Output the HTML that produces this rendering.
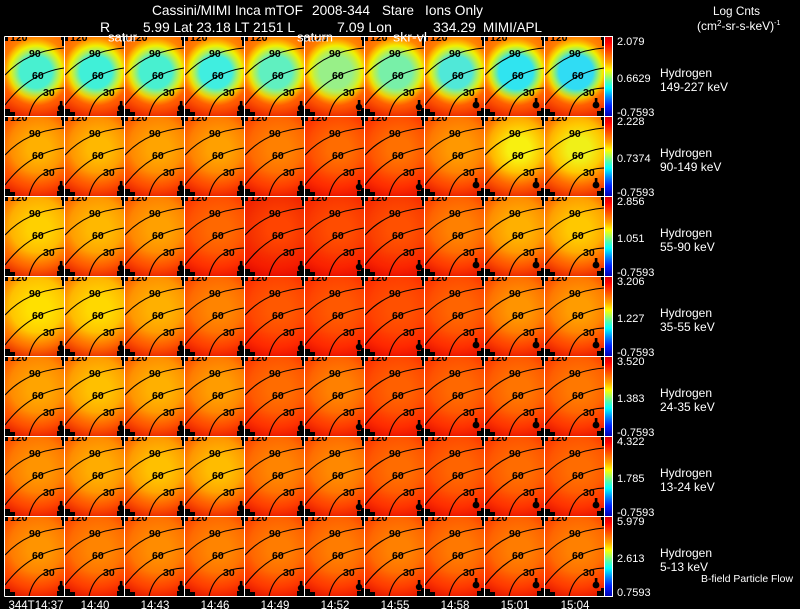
<!DOCTYPE html>
<html><head><meta charset="utf-8">
<style>
html,body{margin:0;padding:0;background:#000}
svg{display:block}
.c{fill:none;stroke:#000;stroke-width:1.1}
.l{font-family:"Liberation Sans",sans-serif;font-weight:bold;font-size:10.5px;fill:#000}
.t{font-family:"Liberation Sans",sans-serif;fill:#fff}
</style></head>
<body>
<svg width="800" height="609" viewBox="0 0 800 609" xmlns="http://www.w3.org/2000/svg">
<defs>
<clipPath id="pc"><rect x="0" y="0" width="59" height="79"/></clipPath>
<linearGradient id="cb" x1="0" y1="0" x2="0" y2="1">
<stop offset="0" stop-color="#d00000"/><stop offset=".08" stop-color="#ff0000"/><stop offset=".2" stop-color="#ff5000"/><stop offset=".32" stop-color="#ffa000"/><stop offset=".42" stop-color="#ffff00"/><stop offset=".5" stop-color="#a0ff60"/><stop offset=".58" stop-color="#40ffc0"/><stop offset=".65" stop-color="#00ffff"/><stop offset=".75" stop-color="#0090ff"/><stop offset=".87" stop-color="#0020ff"/><stop offset="1" stop-color="#0000b0"/>
</linearGradient>
<radialGradient id="o" gradientUnits="userSpaceOnUse" cx="32" cy="28" r="54"><stop offset=".5" stop-color="#ff1000" stop-opacity="0"/><stop offset=".78" stop-color="#ff1000" stop-opacity=".4"/><stop offset="1" stop-color="#d80000" stop-opacity=".75"/></radialGradient>
<!-- row 0 -->
<radialGradient id="g00" gradientUnits="userSpaceOnUse" cx="31" cy="35" r="34"><stop offset=".47" stop-color="#48f0d0"/><stop offset=".64" stop-color="#b0f058"/><stop offset=".77" stop-color="#f0f000"/><stop offset=".9" stop-color="#ffb000"/><stop offset="1" stop-color="#ff8800"/></radialGradient>
<radialGradient id="g01" gradientUnits="userSpaceOnUse" cx="31" cy="35" r="34"><stop offset=".47" stop-color="#40f0d8"/><stop offset=".64" stop-color="#b0f058"/><stop offset=".77" stop-color="#f0f000"/><stop offset=".9" stop-color="#ffb000"/><stop offset="1" stop-color="#ff8800"/></radialGradient>
<radialGradient id="g02" gradientUnits="userSpaceOnUse" cx="31" cy="35" r="34"><stop offset=".47" stop-color="#48f0d0"/><stop offset=".64" stop-color="#b0f058"/><stop offset=".77" stop-color="#f0f000"/><stop offset=".9" stop-color="#ffb000"/><stop offset="1" stop-color="#ff8800"/></radialGradient>
<radialGradient id="g03" gradientUnits="userSpaceOnUse" cx="31" cy="35" r="34"><stop offset=".47" stop-color="#40eee0"/><stop offset=".64" stop-color="#b0f058"/><stop offset=".77" stop-color="#f0f000"/><stop offset=".9" stop-color="#ffb000"/><stop offset="1" stop-color="#ff8800"/></radialGradient>
<radialGradient id="g04" gradientUnits="userSpaceOnUse" cx="31" cy="35" r="34"><stop offset=".47" stop-color="#60f0c0"/><stop offset=".64" stop-color="#b0f058"/><stop offset=".77" stop-color="#f0f000"/><stop offset=".9" stop-color="#ffb000"/><stop offset="1" stop-color="#ff8800"/></radialGradient>
<radialGradient id="g05" gradientUnits="userSpaceOnUse" cx="31" cy="35" r="34"><stop offset=".47" stop-color="#98f088"/><stop offset=".64" stop-color="#c0f048"/><stop offset=".77" stop-color="#f0f000"/><stop offset=".9" stop-color="#ffb000"/><stop offset="1" stop-color="#ff8800"/></radialGradient>
<radialGradient id="g06" gradientUnits="userSpaceOnUse" cx="31" cy="35" r="34"><stop offset=".47" stop-color="#78f0a8"/><stop offset=".64" stop-color="#b8f050"/><stop offset=".77" stop-color="#f0f000"/><stop offset=".9" stop-color="#ffb000"/><stop offset="1" stop-color="#ff8800"/></radialGradient>
<radialGradient id="g07" gradientUnits="userSpaceOnUse" cx="31" cy="35" r="34"><stop offset=".47" stop-color="#50e8d8"/><stop offset=".64" stop-color="#b0f058"/><stop offset=".77" stop-color="#f0f000"/><stop offset=".9" stop-color="#ffb000"/><stop offset="1" stop-color="#ff8800"/></radialGradient>
<radialGradient id="g08" gradientUnits="userSpaceOnUse" cx="31" cy="35" r="34"><stop offset=".5" stop-color="#30e4f0"/><stop offset=".66" stop-color="#a0f060"/><stop offset=".78" stop-color="#f0f000"/><stop offset=".9" stop-color="#ffb000"/><stop offset="1" stop-color="#ff8800"/></radialGradient>
<radialGradient id="g09" gradientUnits="userSpaceOnUse" cx="31" cy="35" r="34"><stop offset=".5" stop-color="#30dcf4"/><stop offset=".66" stop-color="#a0f060"/><stop offset=".78" stop-color="#f0f000"/><stop offset=".9" stop-color="#ffb000"/><stop offset="1" stop-color="#ff8800"/></radialGradient>
<!-- row 1 -->
<radialGradient id="g10" gradientUnits="userSpaceOnUse" cx="34" cy="32" r="38"><stop offset=".3" stop-color="#ffb000"/><stop offset="1" stop-color="#ff7800"/></radialGradient>
<radialGradient id="g11" gradientUnits="userSpaceOnUse" cx="34" cy="32" r="38"><stop offset=".3" stop-color="#ffb800"/><stop offset="1" stop-color="#ff8000"/></radialGradient>
<radialGradient id="g12" gradientUnits="userSpaceOnUse" cx="34" cy="32" r="38"><stop offset=".3" stop-color="#ffa400"/><stop offset="1" stop-color="#ff7800"/></radialGradient>
<radialGradient id="g13" gradientUnits="userSpaceOnUse" cx="34" cy="32" r="38"><stop offset=".3" stop-color="#ffa000"/><stop offset="1" stop-color="#ff7000"/></radialGradient>
<radialGradient id="g14" gradientUnits="userSpaceOnUse" cx="34" cy="32" r="38"><stop offset=".3" stop-color="#ff8000"/><stop offset="1" stop-color="#ff5c00"/></radialGradient>
<radialGradient id="g15" gradientUnits="userSpaceOnUse" cx="34" cy="32" r="38"><stop offset=".3" stop-color="#ff6c00"/><stop offset="1" stop-color="#ff4000"/></radialGradient>
<radialGradient id="g16" gradientUnits="userSpaceOnUse" cx="34" cy="32" r="38"><stop offset=".3" stop-color="#ff7000"/><stop offset="1" stop-color="#ff4400"/></radialGradient>
<radialGradient id="g17" gradientUnits="userSpaceOnUse" cx="34" cy="32" r="38"><stop offset=".3" stop-color="#ff9800"/><stop offset="1" stop-color="#ff6c00"/></radialGradient>
<radialGradient id="g18" gradientUnits="userSpaceOnUse" cx="34" cy="32" r="38"><stop offset=".3" stop-color="#f8f010"/><stop offset=".65" stop-color="#ffc000"/><stop offset="1" stop-color="#ff9000"/></radialGradient>
<radialGradient id="g19" gradientUnits="userSpaceOnUse" cx="34" cy="32" r="38"><stop offset=".3" stop-color="#f0f018"/><stop offset=".65" stop-color="#ffc800"/><stop offset="1" stop-color="#ff9800"/></radialGradient>
<!-- row 2 -->
<radialGradient id="g20" gradientUnits="userSpaceOnUse" cx="34" cy="32" r="38"><stop offset=".3" stop-color="#ffd000"/><stop offset="1" stop-color="#ffa000"/></radialGradient>
<radialGradient id="g21" gradientUnits="userSpaceOnUse" cx="34" cy="32" r="38"><stop offset=".3" stop-color="#ffb800"/><stop offset="1" stop-color="#ff8c00"/></radialGradient>
<radialGradient id="g22" gradientUnits="userSpaceOnUse" cx="34" cy="32" r="38"><stop offset=".3" stop-color="#ffa000"/><stop offset="1" stop-color="#ff7800"/></radialGradient>
<radialGradient id="g23" gradientUnits="userSpaceOnUse" cx="34" cy="32" r="38"><stop offset=".3" stop-color="#ff6800"/><stop offset="1" stop-color="#ff4800"/></radialGradient>
<radialGradient id="g24" gradientUnits="userSpaceOnUse" cx="34" cy="32" r="38"><stop offset=".3" stop-color="#ff4400"/><stop offset="1" stop-color="#f02800"/></radialGradient>
<radialGradient id="g25" gradientUnits="userSpaceOnUse" cx="34" cy="32" r="38"><stop offset=".3" stop-color="#ff4c00"/><stop offset="1" stop-color="#f83000"/></radialGradient>
<radialGradient id="g26" gradientUnits="userSpaceOnUse" cx="34" cy="32" r="38"><stop offset=".3" stop-color="#ff5000"/><stop offset="1" stop-color="#f83400"/></radialGradient>
<radialGradient id="g27" gradientUnits="userSpaceOnUse" cx="34" cy="32" r="38"><stop offset=".3" stop-color="#ff8000"/><stop offset="1" stop-color="#ff5800"/></radialGradient>
<radialGradient id="g28" gradientUnits="userSpaceOnUse" cx="34" cy="32" r="38"><stop offset=".3" stop-color="#ffb000"/><stop offset="1" stop-color="#ff8000"/></radialGradient>
<radialGradient id="g29" gradientUnits="userSpaceOnUse" cx="34" cy="32" r="38"><stop offset=".3" stop-color="#ffc800"/><stop offset="1" stop-color="#ff9000"/></radialGradient>
<!-- row 3 -->
<radialGradient id="g30" gradientUnits="userSpaceOnUse" cx="34" cy="32" r="38"><stop offset=".3" stop-color="#ffe000"/><stop offset="1" stop-color="#ffb400"/></radialGradient>
<radialGradient id="g31" gradientUnits="userSpaceOnUse" cx="34" cy="32" r="38"><stop offset=".3" stop-color="#ffd800"/><stop offset="1" stop-color="#ffa800"/></radialGradient>
<radialGradient id="g32" gradientUnits="userSpaceOnUse" cx="34" cy="32" r="38"><stop offset=".3" stop-color="#ffb000"/><stop offset="1" stop-color="#ff8800"/></radialGradient>
<radialGradient id="g33" gradientUnits="userSpaceOnUse" cx="34" cy="32" r="38"><stop offset=".3" stop-color="#ff8400"/><stop offset="1" stop-color="#ff6000"/></radialGradient>
<radialGradient id="g34" gradientUnits="userSpaceOnUse" cx="34" cy="32" r="38"><stop offset=".3" stop-color="#ff5800"/><stop offset="1" stop-color="#ff3c00"/></radialGradient>
<radialGradient id="g35" gradientUnits="userSpaceOnUse" cx="34" cy="32" r="38"><stop offset=".3" stop-color="#ff5800"/><stop offset="1" stop-color="#ff3c00"/></radialGradient>
<radialGradient id="g36" gradientUnits="userSpaceOnUse" cx="34" cy="32" r="38"><stop offset=".3" stop-color="#ff5000"/><stop offset="1" stop-color="#ff3800"/></radialGradient>
<radialGradient id="g37" gradientUnits="userSpaceOnUse" cx="34" cy="32" r="38"><stop offset=".3" stop-color="#ff6400"/><stop offset="1" stop-color="#ff4400"/></radialGradient>
<radialGradient id="g38" gradientUnits="userSpaceOnUse" cx="34" cy="32" r="38"><stop offset=".3" stop-color="#ff9400"/><stop offset="1" stop-color="#ff6400"/></radialGradient>
<radialGradient id="g39" gradientUnits="userSpaceOnUse" cx="34" cy="32" r="38"><stop offset=".3" stop-color="#ff9c00"/><stop offset="1" stop-color="#ff6c00"/></radialGradient>
<!-- row 4 -->
<radialGradient id="g40" gradientUnits="userSpaceOnUse" cx="34" cy="32" r="38"><stop offset=".3" stop-color="#ffa400"/><stop offset="1" stop-color="#ff7c00"/></radialGradient>
<radialGradient id="g41" gradientUnits="userSpaceOnUse" cx="34" cy="32" r="38"><stop offset=".3" stop-color="#ffc000"/><stop offset="1" stop-color="#ff9000"/></radialGradient>
<radialGradient id="g42" gradientUnits="userSpaceOnUse" cx="34" cy="32" r="38"><stop offset=".3" stop-color="#ffb000"/><stop offset="1" stop-color="#ff8400"/></radialGradient>
<radialGradient id="g43" gradientUnits="userSpaceOnUse" cx="34" cy="32" r="38"><stop offset=".3" stop-color="#ff9c00"/><stop offset="1" stop-color="#ff7000"/></radialGradient>
<radialGradient id="g44" gradientUnits="userSpaceOnUse" cx="34" cy="32" r="38"><stop offset=".3" stop-color="#ff6c00"/><stop offset="1" stop-color="#ff4c00"/></radialGradient>
<radialGradient id="g45" gradientUnits="userSpaceOnUse" cx="34" cy="32" r="38"><stop offset=".3" stop-color="#ff8000"/><stop offset="1" stop-color="#ff5800"/></radialGradient>
<radialGradient id="g46" gradientUnits="userSpaceOnUse" cx="34" cy="32" r="38"><stop offset=".3" stop-color="#ff6000"/><stop offset="1" stop-color="#ff4000"/></radialGradient>
<radialGradient id="g47" gradientUnits="userSpaceOnUse" cx="34" cy="32" r="38"><stop offset=".3" stop-color="#ff6800"/><stop offset="1" stop-color="#ff4800"/></radialGradient>
<radialGradient id="g48" gradientUnits="userSpaceOnUse" cx="34" cy="32" r="38"><stop offset=".3" stop-color="#ff7400"/><stop offset="1" stop-color="#ff5000"/></radialGradient>
<radialGradient id="g49" gradientUnits="userSpaceOnUse" cx="34" cy="32" r="38"><stop offset=".3" stop-color="#ff7800"/><stop offset="1" stop-color="#ff5400"/></radialGradient>
<!-- row 5 -->
<radialGradient id="g50" gradientUnits="userSpaceOnUse" cx="34" cy="32" r="38"><stop offset=".3" stop-color="#ff9400"/><stop offset="1" stop-color="#ff6c00"/></radialGradient>
<radialGradient id="g51" gradientUnits="userSpaceOnUse" cx="34" cy="32" r="38"><stop offset=".3" stop-color="#ffac00"/><stop offset="1" stop-color="#ff8000"/></radialGradient>
<radialGradient id="g52" gradientUnits="userSpaceOnUse" cx="34" cy="32" r="38"><stop offset=".3" stop-color="#ffc000"/><stop offset="1" stop-color="#ff8c00"/></radialGradient>
<radialGradient id="g53" gradientUnits="userSpaceOnUse" cx="34" cy="32" r="38"><stop offset=".3" stop-color="#ffbc00"/><stop offset="1" stop-color="#ff8800"/></radialGradient>
<radialGradient id="g54" gradientUnits="userSpaceOnUse" cx="34" cy="32" r="38"><stop offset=".3" stop-color="#ff8400"/><stop offset="1" stop-color="#ff6000"/></radialGradient>
<radialGradient id="g55" gradientUnits="userSpaceOnUse" cx="34" cy="32" r="38"><stop offset=".3" stop-color="#ff8800"/><stop offset="1" stop-color="#ff6400"/></radialGradient>
<radialGradient id="g56" gradientUnits="userSpaceOnUse" cx="34" cy="32" r="38"><stop offset=".3" stop-color="#ff6c00"/><stop offset="1" stop-color="#ff4c00"/></radialGradient>
<radialGradient id="g57" gradientUnits="userSpaceOnUse" cx="34" cy="32" r="38"><stop offset=".3" stop-color="#ff6400"/><stop offset="1" stop-color="#ff4400"/></radialGradient>
<radialGradient id="g58" gradientUnits="userSpaceOnUse" cx="34" cy="32" r="38"><stop offset=".3" stop-color="#ff6c00"/><stop offset="1" stop-color="#ff4c00"/></radialGradient>
<radialGradient id="g59" gradientUnits="userSpaceOnUse" cx="34" cy="32" r="38"><stop offset=".3" stop-color="#ff6c00"/><stop offset="1" stop-color="#ff4c00"/></radialGradient>
<!-- row 6 -->
<radialGradient id="g60" gradientUnits="userSpaceOnUse" cx="34" cy="32" r="38"><stop offset=".3" stop-color="#ff9400"/><stop offset="1" stop-color="#ff6c00"/></radialGradient>
<radialGradient id="g61" gradientUnits="userSpaceOnUse" cx="34" cy="32" r="38"><stop offset=".3" stop-color="#ff8400"/><stop offset="1" stop-color="#ff6000"/></radialGradient>
<radialGradient id="g62" gradientUnits="userSpaceOnUse" cx="34" cy="32" r="38"><stop offset=".3" stop-color="#ff8c00"/><stop offset="1" stop-color="#ff6800"/></radialGradient>
<radialGradient id="g63" gradientUnits="userSpaceOnUse" cx="34" cy="32" r="38"><stop offset=".3" stop-color="#ff8400"/><stop offset="1" stop-color="#ff6000"/></radialGradient>
<radialGradient id="g64" gradientUnits="userSpaceOnUse" cx="34" cy="32" r="38"><stop offset=".3" stop-color="#ff7c00"/><stop offset="1" stop-color="#ff5800"/></radialGradient>
<radialGradient id="g65" gradientUnits="userSpaceOnUse" cx="34" cy="32" r="38"><stop offset=".3" stop-color="#ff7c00"/><stop offset="1" stop-color="#ff5800"/></radialGradient>
<radialGradient id="g66" gradientUnits="userSpaceOnUse" cx="34" cy="32" r="38"><stop offset=".3" stop-color="#ff8000"/><stop offset="1" stop-color="#ff5c00"/></radialGradient>
<radialGradient id="g67" gradientUnits="userSpaceOnUse" cx="34" cy="32" r="38"><stop offset=".3" stop-color="#ff7800"/><stop offset="1" stop-color="#ff5400"/></radialGradient>
<radialGradient id="g68" gradientUnits="userSpaceOnUse" cx="34" cy="32" r="38"><stop offset=".3" stop-color="#ff7c00"/><stop offset="1" stop-color="#ff5800"/></radialGradient>
<radialGradient id="g69" gradientUnits="userSpaceOnUse" cx="34" cy="32" r="38"><stop offset=".3" stop-color="#ff8000"/><stop offset="1" stop-color="#ff5c00"/></radialGradient>
</defs>

<rect x="0" y="0" width="800" height="609" fill="#000"/>

<!-- ROW 0 -->
<g transform="translate(5,37)" clip-path="url(#pc)"><path d="M3,0H56V3H57V9H59V71H56V74H52V79H10V75H5V72H0V4H3Z" fill="url(#g00)"/><path d="M3,0H56V3H57V9H59V71H56V74H52V79H10V75H5V72H0V4H3Z" fill="url(#o)"/><path class="c" d="M0,38Q22,14 59,11M0,68Q24,36 59,31M24,79Q30,52 59,51"/><text class="l" x="24" y="20">90</text><text class="l" x="27" y="42">60</text><text class="l" x="38" y="59">30</text><text class="l" x="5" y="4">120</text><circle cx="56" cy="71" r="3.2"/><rect x="54.8" y="64" width="2.6" height="6"/></g>
<g transform="translate(65,37)" clip-path="url(#pc)"><path d="M3,0H56V3H57V9H59V71H56V74H52V79H10V75H5V72H0V4H3Z" fill="url(#g01)"/><path d="M3,0H56V3H57V9H59V71H56V74H52V79H10V75H5V72H0V4H3Z" fill="url(#o)"/><path class="c" d="M0,38Q22,14 59,11M0,68Q24,36 59,31M24,79Q30,52 59,51"/><text class="l" x="24" y="20">90</text><text class="l" x="27" y="42">60</text><text class="l" x="38" y="59">30</text><text class="l" x="5" y="4">120</text><circle cx="56" cy="71" r="3.2"/><rect x="54.8" y="64" width="2.6" height="6"/></g>
<g transform="translate(125,37)" clip-path="url(#pc)"><path d="M3,0H56V3H57V9H59V71H56V74H52V79H10V75H5V72H0V4H3Z" fill="url(#g02)"/><path d="M3,0H56V3H57V9H59V71H56V74H52V79H10V75H5V72H0V4H3Z" fill="url(#o)"/><path class="c" d="M0,38Q22,14 59,11M0,68Q24,36 59,31M24,79Q30,52 59,51"/><text class="l" x="24" y="20">90</text><text class="l" x="27" y="42">60</text><text class="l" x="38" y="59">30</text><text class="l" x="5" y="4">120</text><circle cx="56" cy="71" r="3.2"/><rect x="54.8" y="64" width="2.6" height="6"/></g>
<g transform="translate(185,37)" clip-path="url(#pc)"><path d="M3,0H56V3H57V9H59V71H56V74H52V79H10V75H5V72H0V4H3Z" fill="url(#g03)"/><path d="M3,0H56V3H57V9H59V71H56V74H52V79H10V75H5V72H0V4H3Z" fill="url(#o)"/><path class="c" d="M0,38Q22,14 59,11M0,68Q24,36 59,31M24,79Q30,52 59,51"/><text class="l" x="24" y="20">90</text><text class="l" x="27" y="42">60</text><text class="l" x="38" y="59">30</text><text class="l" x="5" y="4">120</text><circle cx="56" cy="71" r="3.2"/><rect x="54.8" y="64" width="2.6" height="6"/></g>
<g transform="translate(245,37)" clip-path="url(#pc)"><path d="M3,0H56V3H57V9H59V71H56V74H52V79H10V75H5V72H0V4H3Z" fill="url(#g04)"/><path d="M3,0H56V3H57V9H59V71H56V74H52V79H10V75H5V72H0V4H3Z" fill="url(#o)"/><path class="c" d="M0,38Q22,14 59,11M0,68Q24,36 59,31M24,79Q30,52 59,51"/><text class="l" x="24" y="20">90</text><text class="l" x="27" y="42">60</text><text class="l" x="38" y="59">30</text><text class="l" x="5" y="4">120</text><circle cx="56" cy="71" r="3.2"/><rect x="54.8" y="64" width="2.6" height="6"/></g>
<g transform="translate(305,37)" clip-path="url(#pc)"><path d="M3,0H56V3H57V9H59V71H56V74H52V79H10V75H5V72H0V4H3Z" fill="url(#g05)"/><path d="M3,0H56V3H57V9H59V71H56V74H52V79H10V75H5V72H0V4H3Z" fill="url(#o)"/><path class="c" d="M0,38Q22,14 59,11M0,68Q24,36 59,31M24,79Q30,52 59,51"/><text class="l" x="24" y="20">90</text><text class="l" x="27" y="42">60</text><text class="l" x="38" y="59">30</text><text class="l" x="5" y="4">120</text><circle cx="54" cy="70" r="3.2"/><rect x="52.8" y="63" width="2.6" height="6"/></g>
<g transform="translate(365,37)" clip-path="url(#pc)"><path d="M3,0H56V3H57V9H59V71H56V74H52V79H10V75H5V72H0V4H3Z" fill="url(#g06)"/><path d="M3,0H56V3H57V9H59V71H56V74H52V79H10V75H5V72H0V4H3Z" fill="url(#o)"/><path class="c" d="M0,38Q22,14 59,11M0,68Q24,36 59,31M24,79Q30,52 59,51"/><text class="l" x="24" y="20">90</text><text class="l" x="27" y="42">60</text><text class="l" x="38" y="59">30</text><text class="l" x="5" y="4">120</text><circle cx="54" cy="70" r="3.2"/><rect x="52.8" y="63" width="2.6" height="6"/></g>
<g transform="translate(425,37)" clip-path="url(#pc)"><path d="M3,0H56V3H57V9H59V71H56V74H52V79H10V75H5V72H0V4H3Z" fill="url(#g07)"/><path d="M3,0H56V3H57V9H59V71H56V74H52V79H10V75H5V72H0V4H3Z" fill="url(#o)"/><path class="c" d="M0,38Q22,14 59,11M0,68Q24,36 59,31M24,79Q30,52 59,51"/><text class="l" x="24" y="20">90</text><text class="l" x="27" y="42">60</text><text class="l" x="38" y="59">30</text><text class="l" x="5" y="4">120</text><circle cx="51" cy="68" r="3.4"/><rect x="49.8" y="61" width="2.6" height="6"/></g>
<g transform="translate(485,37)" clip-path="url(#pc)"><path d="M3,0H56V3H57V9H59V71H56V74H52V79H10V75H5V72H0V4H3Z" fill="url(#g08)"/><path d="M3,0H56V3H57V9H59V71H56V74H52V79H10V75H5V72H0V4H3Z" fill="url(#o)"/><path class="c" d="M0,38Q22,14 59,11M0,68Q24,36 59,31M24,79Q30,52 59,51"/><text class="l" x="24" y="20">90</text><text class="l" x="27" y="42">60</text><text class="l" x="38" y="59">30</text><text class="l" x="5" y="4">120</text><circle cx="51" cy="68" r="3.4"/><rect x="49.8" y="61" width="2.6" height="6"/></g>
<g transform="translate(545,37)" clip-path="url(#pc)"><path d="M3,0H56V3H57V9H59V71H56V74H52V79H10V75H5V72H0V4H3Z" fill="url(#g09)"/><path d="M3,0H56V3H57V9H59V71H56V74H52V79H10V75H5V72H0V4H3Z" fill="url(#o)"/><path class="c" d="M0,38Q22,14 59,11M0,68Q24,36 59,31M24,79Q30,52 59,51"/><text class="l" x="24" y="20">90</text><text class="l" x="27" y="42">60</text><text class="l" x="38" y="59">30</text><text class="l" x="5" y="4">120</text><circle cx="51" cy="68" r="3.4"/><rect x="49.8" y="61" width="2.6" height="6"/></g>

<!-- ROW 1 -->
<g transform="translate(5,117)" clip-path="url(#pc)"><path d="M3,0H56V3H57V9H59V71H56V74H52V79H10V75H5V72H0V4H3Z" fill="url(#g10)"/><path d="M3,0H56V3H57V9H59V71H56V74H52V79H10V75H5V72H0V4H3Z" fill="url(#o)"/><path class="c" d="M0,38Q22,14 59,11M0,68Q24,36 59,31M24,79Q30,52 59,51"/><text class="l" x="24" y="20">90</text><text class="l" x="27" y="42">60</text><text class="l" x="38" y="59">30</text><text class="l" x="5" y="4">120</text><circle cx="56" cy="71" r="3.2"/><rect x="54.8" y="64" width="2.6" height="6"/></g>
<g transform="translate(65,117)" clip-path="url(#pc)"><path d="M3,0H56V3H57V9H59V71H56V74H52V79H10V75H5V72H0V4H3Z" fill="url(#g11)"/><path d="M3,0H56V3H57V9H59V71H56V74H52V79H10V75H5V72H0V4H3Z" fill="url(#o)"/><path class="c" d="M0,38Q22,14 59,11M0,68Q24,36 59,31M24,79Q30,52 59,51"/><text class="l" x="24" y="20">90</text><text class="l" x="27" y="42">60</text><text class="l" x="38" y="59">30</text><text class="l" x="5" y="4">120</text><circle cx="56" cy="71" r="3.2"/><rect x="54.8" y="64" width="2.6" height="6"/></g>
<g transform="translate(125,117)" clip-path="url(#pc)"><path d="M3,0H56V3H57V9H59V71H56V74H52V79H10V75H5V72H0V4H3Z" fill="url(#g12)"/><path d="M3,0H56V3H57V9H59V71H56V74H52V79H10V75H5V72H0V4H3Z" fill="url(#o)"/><path class="c" d="M0,38Q22,14 59,11M0,68Q24,36 59,31M24,79Q30,52 59,51"/><text class="l" x="24" y="20">90</text><text class="l" x="27" y="42">60</text><text class="l" x="38" y="59">30</text><text class="l" x="5" y="4">120</text><circle cx="56" cy="71" r="3.2"/><rect x="54.8" y="64" width="2.6" height="6"/></g>
<g transform="translate(185,117)" clip-path="url(#pc)"><path d="M3,0H56V3H57V9H59V71H56V74H52V79H10V75H5V72H0V4H3Z" fill="url(#g13)"/><path d="M3,0H56V3H57V9H59V71H56V74H52V79H10V75H5V72H0V4H3Z" fill="url(#o)"/><path class="c" d="M0,38Q22,14 59,11M0,68Q24,36 59,31M24,79Q30,52 59,51"/><text class="l" x="24" y="20">90</text><text class="l" x="27" y="42">60</text><text class="l" x="38" y="59">30</text><text class="l" x="5" y="4">120</text><circle cx="56" cy="71" r="3.2"/><rect x="54.8" y="64" width="2.6" height="6"/></g>
<g transform="translate(245,117)" clip-path="url(#pc)"><path d="M3,0H56V3H57V9H59V71H56V74H52V79H10V75H5V72H0V4H3Z" fill="url(#g14)"/><path d="M3,0H56V3H57V9H59V71H56V74H52V79H10V75H5V72H0V4H3Z" fill="url(#o)"/><path class="c" d="M0,38Q22,14 59,11M0,68Q24,36 59,31M24,79Q30,52 59,51"/><text class="l" x="24" y="20">90</text><text class="l" x="27" y="42">60</text><text class="l" x="38" y="59">30</text><text class="l" x="5" y="4">120</text><circle cx="56" cy="71" r="3.2"/><rect x="54.8" y="64" width="2.6" height="6"/></g>
<g transform="translate(305,117)" clip-path="url(#pc)"><path d="M3,0H56V3H57V9H59V71H56V74H52V79H10V75H5V72H0V4H3Z" fill="url(#g15)"/><path d="M3,0H56V3H57V9H59V71H56V74H52V79H10V75H5V72H0V4H3Z" fill="url(#o)"/><path class="c" d="M0,38Q22,14 59,11M0,68Q24,36 59,31M24,79Q30,52 59,51"/><text class="l" x="24" y="20">90</text><text class="l" x="27" y="42">60</text><text class="l" x="38" y="59">30</text><text class="l" x="5" y="4">120</text><circle cx="54" cy="70" r="3.2"/><rect x="52.8" y="63" width="2.6" height="6"/></g>
<g transform="translate(365,117)" clip-path="url(#pc)"><path d="M3,0H56V3H57V9H59V71H56V74H52V79H10V75H5V72H0V4H3Z" fill="url(#g16)"/><path d="M3,0H56V3H57V9H59V71H56V74H52V79H10V75H5V72H0V4H3Z" fill="url(#o)"/><path class="c" d="M0,38Q22,14 59,11M0,68Q24,36 59,31M24,79Q30,52 59,51"/><text class="l" x="24" y="20">90</text><text class="l" x="27" y="42">60</text><text class="l" x="38" y="59">30</text><text class="l" x="5" y="4">120</text><circle cx="54" cy="70" r="3.2"/><rect x="52.8" y="63" width="2.6" height="6"/></g>
<g transform="translate(425,117)" clip-path="url(#pc)"><path d="M3,0H56V3H57V9H59V71H56V74H52V79H10V75H5V72H0V4H3Z" fill="url(#g17)"/><path d="M3,0H56V3H57V9H59V71H56V74H52V79H10V75H5V72H0V4H3Z" fill="url(#o)"/><path class="c" d="M0,38Q22,14 59,11M0,68Q24,36 59,31M24,79Q30,52 59,51"/><text class="l" x="24" y="20">90</text><text class="l" x="27" y="42">60</text><text class="l" x="38" y="59">30</text><text class="l" x="5" y="4">120</text><circle cx="51" cy="68" r="3.4"/><rect x="49.8" y="61" width="2.6" height="6"/></g>
<g transform="translate(485,117)" clip-path="url(#pc)"><path d="M3,0H56V3H57V9H59V71H56V74H52V79H10V75H5V72H0V4H3Z" fill="url(#g18)"/><path d="M3,0H56V3H57V9H59V71H56V74H52V79H10V75H5V72H0V4H3Z" fill="url(#o)"/><path class="c" d="M0,38Q22,14 59,11M0,68Q24,36 59,31M24,79Q30,52 59,51"/><text class="l" x="24" y="20">90</text><text class="l" x="27" y="42">60</text><text class="l" x="38" y="59">30</text><text class="l" x="5" y="4">120</text><circle cx="51" cy="68" r="3.4"/><rect x="49.8" y="61" width="2.6" height="6"/></g>
<g transform="translate(545,117)" clip-path="url(#pc)"><path d="M3,0H56V3H57V9H59V71H56V74H52V79H10V75H5V72H0V4H3Z" fill="url(#g19)"/><path d="M3,0H56V3H57V9H59V71H56V74H52V79H10V75H5V72H0V4H3Z" fill="url(#o)"/><path class="c" d="M0,38Q22,14 59,11M0,68Q24,36 59,31M24,79Q30,52 59,51"/><text class="l" x="24" y="20">90</text><text class="l" x="27" y="42">60</text><text class="l" x="38" y="59">30</text><text class="l" x="5" y="4">120</text><circle cx="51" cy="68" r="3.4"/><rect x="49.8" y="61" width="2.6" height="6"/></g>

<!-- ROW 2 -->
<g transform="translate(5,197)" clip-path="url(#pc)"><path d="M3,0H56V3H57V9H59V71H56V74H52V79H10V75H5V72H0V4H3Z" fill="url(#g20)"/><path d="M3,0H56V3H57V9H59V71H56V74H52V79H10V75H5V72H0V4H3Z" fill="url(#o)"/><path class="c" d="M0,38Q22,14 59,11M0,68Q24,36 59,31M24,79Q30,52 59,51"/><text class="l" x="24" y="20">90</text><text class="l" x="27" y="42">60</text><text class="l" x="38" y="59">30</text><text class="l" x="5" y="4">120</text><circle cx="56" cy="71" r="3.2"/><rect x="54.8" y="64" width="2.6" height="6"/></g>
<g transform="translate(65,197)" clip-path="url(#pc)"><path d="M3,0H56V3H57V9H59V71H56V74H52V79H10V75H5V72H0V4H3Z" fill="url(#g21)"/><path d="M3,0H56V3H57V9H59V71H56V74H52V79H10V75H5V72H0V4H3Z" fill="url(#o)"/><path class="c" d="M0,38Q22,14 59,11M0,68Q24,36 59,31M24,79Q30,52 59,51"/><text class="l" x="24" y="20">90</text><text class="l" x="27" y="42">60</text><text class="l" x="38" y="59">30</text><text class="l" x="5" y="4">120</text><circle cx="56" cy="71" r="3.2"/><rect x="54.8" y="64" width="2.6" height="6"/></g>
<g transform="translate(125,197)" clip-path="url(#pc)"><path d="M3,0H56V3H57V9H59V71H56V74H52V79H10V75H5V72H0V4H3Z" fill="url(#g22)"/><path d="M3,0H56V3H57V9H59V71H56V74H52V79H10V75H5V72H0V4H3Z" fill="url(#o)"/><path class="c" d="M0,38Q22,14 59,11M0,68Q24,36 59,31M24,79Q30,52 59,51"/><text class="l" x="24" y="20">90</text><text class="l" x="27" y="42">60</text><text class="l" x="38" y="59">30</text><text class="l" x="5" y="4">120</text><circle cx="56" cy="71" r="3.2"/><rect x="54.8" y="64" width="2.6" height="6"/></g>
<g transform="translate(185,197)" clip-path="url(#pc)"><path d="M3,0H56V3H57V9H59V71H56V74H52V79H10V75H5V72H0V4H3Z" fill="url(#g23)"/><path d="M3,0H56V3H57V9H59V71H56V74H52V79H10V75H5V72H0V4H3Z" fill="url(#o)"/><path class="c" d="M0,38Q22,14 59,11M0,68Q24,36 59,31M24,79Q30,52 59,51"/><text class="l" x="24" y="20">90</text><text class="l" x="27" y="42">60</text><text class="l" x="38" y="59">30</text><text class="l" x="5" y="4">120</text><circle cx="56" cy="71" r="3.2"/><rect x="54.8" y="64" width="2.6" height="6"/></g>
<g transform="translate(245,197)" clip-path="url(#pc)"><path d="M3,0H56V3H57V9H59V71H56V74H52V79H10V75H5V72H0V4H3Z" fill="url(#g24)"/><path d="M3,0H56V3H57V9H59V71H56V74H52V79H10V75H5V72H0V4H3Z" fill="url(#o)"/><path class="c" d="M0,38Q22,14 59,11M0,68Q24,36 59,31M24,79Q30,52 59,51"/><text class="l" x="24" y="20">90</text><text class="l" x="27" y="42">60</text><text class="l" x="38" y="59">30</text><text class="l" x="5" y="4">120</text><circle cx="56" cy="71" r="3.2"/><rect x="54.8" y="64" width="2.6" height="6"/></g>
<g transform="translate(305,197)" clip-path="url(#pc)"><path d="M3,0H56V3H57V9H59V71H56V74H52V79H10V75H5V72H0V4H3Z" fill="url(#g25)"/><path d="M3,0H56V3H57V9H59V71H56V74H52V79H10V75H5V72H0V4H3Z" fill="url(#o)"/><path class="c" d="M0,38Q22,14 59,11M0,68Q24,36 59,31M24,79Q30,52 59,51"/><text class="l" x="24" y="20">90</text><text class="l" x="27" y="42">60</text><text class="l" x="38" y="59">30</text><text class="l" x="5" y="4">120</text><circle cx="54" cy="70" r="3.2"/><rect x="52.8" y="63" width="2.6" height="6"/></g>
<g transform="translate(365,197)" clip-path="url(#pc)"><path d="M3,0H56V3H57V9H59V71H56V74H52V79H10V75H5V72H0V4H3Z" fill="url(#g26)"/><path d="M3,0H56V3H57V9H59V71H56V74H52V79H10V75H5V72H0V4H3Z" fill="url(#o)"/><path class="c" d="M0,38Q22,14 59,11M0,68Q24,36 59,31M24,79Q30,52 59,51"/><text class="l" x="24" y="20">90</text><text class="l" x="27" y="42">60</text><text class="l" x="38" y="59">30</text><text class="l" x="5" y="4">120</text><circle cx="54" cy="70" r="3.2"/><rect x="52.8" y="63" width="2.6" height="6"/></g>
<g transform="translate(425,197)" clip-path="url(#pc)"><path d="M3,0H56V3H57V9H59V71H56V74H52V79H10V75H5V72H0V4H3Z" fill="url(#g27)"/><path d="M3,0H56V3H57V9H59V71H56V74H52V79H10V75H5V72H0V4H3Z" fill="url(#o)"/><path class="c" d="M0,38Q22,14 59,11M0,68Q24,36 59,31M24,79Q30,52 59,51"/><text class="l" x="24" y="20">90</text><text class="l" x="27" y="42">60</text><text class="l" x="38" y="59">30</text><text class="l" x="5" y="4">120</text><circle cx="51" cy="68" r="3.4"/><rect x="49.8" y="61" width="2.6" height="6"/></g>
<g transform="translate(485,197)" clip-path="url(#pc)"><path d="M3,0H56V3H57V9H59V71H56V74H52V79H10V75H5V72H0V4H3Z" fill="url(#g28)"/><path d="M3,0H56V3H57V9H59V71H56V74H52V79H10V75H5V72H0V4H3Z" fill="url(#o)"/><path class="c" d="M0,38Q22,14 59,11M0,68Q24,36 59,31M24,79Q30,52 59,51"/><text class="l" x="24" y="20">90</text><text class="l" x="27" y="42">60</text><text class="l" x="38" y="59">30</text><text class="l" x="5" y="4">120</text><circle cx="51" cy="68" r="3.4"/><rect x="49.8" y="61" width="2.6" height="6"/></g>
<g transform="translate(545,197)" clip-path="url(#pc)"><path d="M3,0H56V3H57V9H59V71H56V74H52V79H10V75H5V72H0V4H3Z" fill="url(#g29)"/><path d="M3,0H56V3H57V9H59V71H56V74H52V79H10V75H5V72H0V4H3Z" fill="url(#o)"/><path class="c" d="M0,38Q22,14 59,11M0,68Q24,36 59,31M24,79Q30,52 59,51"/><text class="l" x="24" y="20">90</text><text class="l" x="27" y="42">60</text><text class="l" x="38" y="59">30</text><text class="l" x="5" y="4">120</text><circle cx="51" cy="68" r="3.4"/><rect x="49.8" y="61" width="2.6" height="6"/></g>

<!-- ROW 3 -->
<g transform="translate(5,277)" clip-path="url(#pc)"><path d="M3,0H56V3H57V9H59V71H56V74H52V79H10V75H5V72H0V4H3Z" fill="url(#g30)"/><path d="M3,0H56V3H57V9H59V71H56V74H52V79H10V75H5V72H0V4H3Z" fill="url(#o)"/><path class="c" d="M0,38Q22,14 59,11M0,68Q24,36 59,31M24,79Q30,52 59,51"/><text class="l" x="24" y="20">90</text><text class="l" x="27" y="42">60</text><text class="l" x="38" y="59">30</text><text class="l" x="5" y="4">120</text><circle cx="56" cy="71" r="3.2"/><rect x="54.8" y="64" width="2.6" height="6"/></g>
<g transform="translate(65,277)" clip-path="url(#pc)"><path d="M3,0H56V3H57V9H59V71H56V74H52V79H10V75H5V72H0V4H3Z" fill="url(#g31)"/><path d="M3,0H56V3H57V9H59V71H56V74H52V79H10V75H5V72H0V4H3Z" fill="url(#o)"/><path class="c" d="M0,38Q22,14 59,11M0,68Q24,36 59,31M24,79Q30,52 59,51"/><text class="l" x="24" y="20">90</text><text class="l" x="27" y="42">60</text><text class="l" x="38" y="59">30</text><text class="l" x="5" y="4">120</text><circle cx="56" cy="71" r="3.2"/><rect x="54.8" y="64" width="2.6" height="6"/></g>
<g transform="translate(125,277)" clip-path="url(#pc)"><path d="M3,0H56V3H57V9H59V71H56V74H52V79H10V75H5V72H0V4H3Z" fill="url(#g32)"/><path d="M3,0H56V3H57V9H59V71H56V74H52V79H10V75H5V72H0V4H3Z" fill="url(#o)"/><path class="c" d="M0,38Q22,14 59,11M0,68Q24,36 59,31M24,79Q30,52 59,51"/><text class="l" x="24" y="20">90</text><text class="l" x="27" y="42">60</text><text class="l" x="38" y="59">30</text><text class="l" x="5" y="4">120</text><circle cx="56" cy="71" r="3.2"/><rect x="54.8" y="64" width="2.6" height="6"/></g>
<g transform="translate(185,277)" clip-path="url(#pc)"><path d="M3,0H56V3H57V9H59V71H56V74H52V79H10V75H5V72H0V4H3Z" fill="url(#g33)"/><path d="M3,0H56V3H57V9H59V71H56V74H52V79H10V75H5V72H0V4H3Z" fill="url(#o)"/><path class="c" d="M0,38Q22,14 59,11M0,68Q24,36 59,31M24,79Q30,52 59,51"/><text class="l" x="24" y="20">90</text><text class="l" x="27" y="42">60</text><text class="l" x="38" y="59">30</text><text class="l" x="5" y="4">120</text><circle cx="56" cy="71" r="3.2"/><rect x="54.8" y="64" width="2.6" height="6"/></g>
<g transform="translate(245,277)" clip-path="url(#pc)"><path d="M3,0H56V3H57V9H59V71H56V74H52V79H10V75H5V72H0V4H3Z" fill="url(#g34)"/><path d="M3,0H56V3H57V9H59V71H56V74H52V79H10V75H5V72H0V4H3Z" fill="url(#o)"/><path class="c" d="M0,38Q22,14 59,11M0,68Q24,36 59,31M24,79Q30,52 59,51"/><text class="l" x="24" y="20">90</text><text class="l" x="27" y="42">60</text><text class="l" x="38" y="59">30</text><text class="l" x="5" y="4">120</text><circle cx="56" cy="71" r="3.2"/><rect x="54.8" y="64" width="2.6" height="6"/></g>
<g transform="translate(305,277)" clip-path="url(#pc)"><path d="M3,0H56V3H57V9H59V71H56V74H52V79H10V75H5V72H0V4H3Z" fill="url(#g35)"/><path d="M3,0H56V3H57V9H59V71H56V74H52V79H10V75H5V72H0V4H3Z" fill="url(#o)"/><path class="c" d="M0,38Q22,14 59,11M0,68Q24,36 59,31M24,79Q30,52 59,51"/><text class="l" x="24" y="20">90</text><text class="l" x="27" y="42">60</text><text class="l" x="38" y="59">30</text><text class="l" x="5" y="4">120</text><circle cx="54" cy="70" r="3.2"/><rect x="52.8" y="63" width="2.6" height="6"/></g>
<g transform="translate(365,277)" clip-path="url(#pc)"><path d="M3,0H56V3H57V9H59V71H56V74H52V79H10V75H5V72H0V4H3Z" fill="url(#g36)"/><path d="M3,0H56V3H57V9H59V71H56V74H52V79H10V75H5V72H0V4H3Z" fill="url(#o)"/><path class="c" d="M0,38Q22,14 59,11M0,68Q24,36 59,31M24,79Q30,52 59,51"/><text class="l" x="24" y="20">90</text><text class="l" x="27" y="42">60</text><text class="l" x="38" y="59">30</text><text class="l" x="5" y="4">120</text><circle cx="54" cy="70" r="3.2"/><rect x="52.8" y="63" width="2.6" height="6"/></g>
<g transform="translate(425,277)" clip-path="url(#pc)"><path d="M3,0H56V3H57V9H59V71H56V74H52V79H10V75H5V72H0V4H3Z" fill="url(#g37)"/><path d="M3,0H56V3H57V9H59V71H56V74H52V79H10V75H5V72H0V4H3Z" fill="url(#o)"/><path class="c" d="M0,38Q22,14 59,11M0,68Q24,36 59,31M24,79Q30,52 59,51"/><text class="l" x="24" y="20">90</text><text class="l" x="27" y="42">60</text><text class="l" x="38" y="59">30</text><text class="l" x="5" y="4">120</text><circle cx="51" cy="68" r="3.4"/><rect x="49.8" y="61" width="2.6" height="6"/></g>
<g transform="translate(485,277)" clip-path="url(#pc)"><path d="M3,0H56V3H57V9H59V71H56V74H52V79H10V75H5V72H0V4H3Z" fill="url(#g38)"/><path d="M3,0H56V3H57V9H59V71H56V74H52V79H10V75H5V72H0V4H3Z" fill="url(#o)"/><path class="c" d="M0,38Q22,14 59,11M0,68Q24,36 59,31M24,79Q30,52 59,51"/><text class="l" x="24" y="20">90</text><text class="l" x="27" y="42">60</text><text class="l" x="38" y="59">30</text><text class="l" x="5" y="4">120</text><circle cx="51" cy="68" r="3.4"/><rect x="49.8" y="61" width="2.6" height="6"/></g>
<g transform="translate(545,277)" clip-path="url(#pc)"><path d="M3,0H56V3H57V9H59V71H56V74H52V79H10V75H5V72H0V4H3Z" fill="url(#g39)"/><path d="M3,0H56V3H57V9H59V71H56V74H52V79H10V75H5V72H0V4H3Z" fill="url(#o)"/><path class="c" d="M0,38Q22,14 59,11M0,68Q24,36 59,31M24,79Q30,52 59,51"/><text class="l" x="24" y="20">90</text><text class="l" x="27" y="42">60</text><text class="l" x="38" y="59">30</text><text class="l" x="5" y="4">120</text><circle cx="51" cy="68" r="3.4"/><rect x="49.8" y="61" width="2.6" height="6"/></g>

<!-- ROW 4 -->
<g transform="translate(5,357)" clip-path="url(#pc)"><path d="M3,0H56V3H57V9H59V71H56V74H52V79H10V75H5V72H0V4H3Z" fill="url(#g40)"/><path d="M3,0H56V3H57V9H59V71H56V74H52V79H10V75H5V72H0V4H3Z" fill="url(#o)"/><path class="c" d="M0,38Q22,14 59,11M0,68Q24,36 59,31M24,79Q30,52 59,51"/><text class="l" x="24" y="20">90</text><text class="l" x="27" y="42">60</text><text class="l" x="38" y="59">30</text><text class="l" x="5" y="4">120</text><circle cx="56" cy="71" r="3.2"/><rect x="54.8" y="64" width="2.6" height="6"/></g>
<g transform="translate(65,357)" clip-path="url(#pc)"><path d="M3,0H56V3H57V9H59V71H56V74H52V79H10V75H5V72H0V4H3Z" fill="url(#g41)"/><path d="M3,0H56V3H57V9H59V71H56V74H52V79H10V75H5V72H0V4H3Z" fill="url(#o)"/><path class="c" d="M0,38Q22,14 59,11M0,68Q24,36 59,31M24,79Q30,52 59,51"/><text class="l" x="24" y="20">90</text><text class="l" x="27" y="42">60</text><text class="l" x="38" y="59">30</text><text class="l" x="5" y="4">120</text><circle cx="56" cy="71" r="3.2"/><rect x="54.8" y="64" width="2.6" height="6"/></g>
<g transform="translate(125,357)" clip-path="url(#pc)"><path d="M3,0H56V3H57V9H59V71H56V74H52V79H10V75H5V72H0V4H3Z" fill="url(#g42)"/><path d="M3,0H56V3H57V9H59V71H56V74H52V79H10V75H5V72H0V4H3Z" fill="url(#o)"/><path class="c" d="M0,38Q22,14 59,11M0,68Q24,36 59,31M24,79Q30,52 59,51"/><text class="l" x="24" y="20">90</text><text class="l" x="27" y="42">60</text><text class="l" x="38" y="59">30</text><text class="l" x="5" y="4">120</text><circle cx="56" cy="71" r="3.2"/><rect x="54.8" y="64" width="2.6" height="6"/></g>
<g transform="translate(185,357)" clip-path="url(#pc)"><path d="M3,0H56V3H57V9H59V71H56V74H52V79H10V75H5V72H0V4H3Z" fill="url(#g43)"/><path d="M3,0H56V3H57V9H59V71H56V74H52V79H10V75H5V72H0V4H3Z" fill="url(#o)"/><path class="c" d="M0,38Q22,14 59,11M0,68Q24,36 59,31M24,79Q30,52 59,51"/><text class="l" x="24" y="20">90</text><text class="l" x="27" y="42">60</text><text class="l" x="38" y="59">30</text><text class="l" x="5" y="4">120</text><circle cx="56" cy="71" r="3.2"/><rect x="54.8" y="64" width="2.6" height="6"/></g>
<g transform="translate(245,357)" clip-path="url(#pc)"><path d="M3,0H56V3H57V9H59V71H56V74H52V79H10V75H5V72H0V4H3Z" fill="url(#g44)"/><path d="M3,0H56V3H57V9H59V71H56V74H52V79H10V75H5V72H0V4H3Z" fill="url(#o)"/><path class="c" d="M0,38Q22,14 59,11M0,68Q24,36 59,31M24,79Q30,52 59,51"/><text class="l" x="24" y="20">90</text><text class="l" x="27" y="42">60</text><text class="l" x="38" y="59">30</text><text class="l" x="5" y="4">120</text><circle cx="56" cy="71" r="3.2"/><rect x="54.8" y="64" width="2.6" height="6"/></g>
<g transform="translate(305,357)" clip-path="url(#pc)"><path d="M3,0H56V3H57V9H59V71H56V74H52V79H10V75H5V72H0V4H3Z" fill="url(#g45)"/><path d="M3,0H56V3H57V9H59V71H56V74H52V79H10V75H5V72H0V4H3Z" fill="url(#o)"/><path class="c" d="M0,38Q22,14 59,11M0,68Q24,36 59,31M24,79Q30,52 59,51"/><text class="l" x="24" y="20">90</text><text class="l" x="27" y="42">60</text><text class="l" x="38" y="59">30</text><text class="l" x="5" y="4">120</text><circle cx="54" cy="70" r="3.2"/><rect x="52.8" y="63" width="2.6" height="6"/></g>
<g transform="translate(365,357)" clip-path="url(#pc)"><path d="M3,0H56V3H57V9H59V71H56V74H52V79H10V75H5V72H0V4H3Z" fill="url(#g46)"/><path d="M3,0H56V3H57V9H59V71H56V74H52V79H10V75H5V72H0V4H3Z" fill="url(#o)"/><path class="c" d="M0,38Q22,14 59,11M0,68Q24,36 59,31M24,79Q30,52 59,51"/><text class="l" x="24" y="20">90</text><text class="l" x="27" y="42">60</text><text class="l" x="38" y="59">30</text><text class="l" x="5" y="4">120</text><circle cx="54" cy="70" r="3.2"/><rect x="52.8" y="63" width="2.6" height="6"/></g>
<g transform="translate(425,357)" clip-path="url(#pc)"><path d="M3,0H56V3H57V9H59V71H56V74H52V79H10V75H5V72H0V4H3Z" fill="url(#g47)"/><path d="M3,0H56V3H57V9H59V71H56V74H52V79H10V75H5V72H0V4H3Z" fill="url(#o)"/><path class="c" d="M0,38Q22,14 59,11M0,68Q24,36 59,31M24,79Q30,52 59,51"/><text class="l" x="24" y="20">90</text><text class="l" x="27" y="42">60</text><text class="l" x="38" y="59">30</text><text class="l" x="5" y="4">120</text><circle cx="51" cy="68" r="3.4"/><rect x="49.8" y="61" width="2.6" height="6"/></g>
<g transform="translate(485,357)" clip-path="url(#pc)"><path d="M3,0H56V3H57V9H59V71H56V74H52V79H10V75H5V72H0V4H3Z" fill="url(#g48)"/><path d="M3,0H56V3H57V9H59V71H56V74H52V79H10V75H5V72H0V4H3Z" fill="url(#o)"/><path class="c" d="M0,38Q22,14 59,11M0,68Q24,36 59,31M24,79Q30,52 59,51"/><text class="l" x="24" y="20">90</text><text class="l" x="27" y="42">60</text><text class="l" x="38" y="59">30</text><text class="l" x="5" y="4">120</text><circle cx="51" cy="68" r="3.4"/><rect x="49.8" y="61" width="2.6" height="6"/></g>
<g transform="translate(545,357)" clip-path="url(#pc)"><path d="M3,0H56V3H57V9H59V71H56V74H52V79H10V75H5V72H0V4H3Z" fill="url(#g49)"/><path d="M3,0H56V3H57V9H59V71H56V74H52V79H10V75H5V72H0V4H3Z" fill="url(#o)"/><path class="c" d="M0,38Q22,14 59,11M0,68Q24,36 59,31M24,79Q30,52 59,51"/><text class="l" x="24" y="20">90</text><text class="l" x="27" y="42">60</text><text class="l" x="38" y="59">30</text><text class="l" x="5" y="4">120</text><circle cx="51" cy="68" r="3.4"/><rect x="49.8" y="61" width="2.6" height="6"/></g>

<!-- ROW 5 -->
<g transform="translate(5,437)" clip-path="url(#pc)"><path d="M3,0H56V3H57V9H59V71H56V74H52V79H10V75H5V72H0V4H3Z" fill="url(#g50)"/><path d="M3,0H56V3H57V9H59V71H56V74H52V79H10V75H5V72H0V4H3Z" fill="url(#o)"/><path class="c" d="M0,38Q22,14 59,11M0,68Q24,36 59,31M24,79Q30,52 59,51"/><text class="l" x="24" y="20">90</text><text class="l" x="27" y="42">60</text><text class="l" x="38" y="59">30</text><text class="l" x="5" y="4">120</text><circle cx="56" cy="71" r="3.2"/><rect x="54.8" y="64" width="2.6" height="6"/></g>
<g transform="translate(65,437)" clip-path="url(#pc)"><path d="M3,0H56V3H57V9H59V71H56V74H52V79H10V75H5V72H0V4H3Z" fill="url(#g51)"/><path d="M3,0H56V3H57V9H59V71H56V74H52V79H10V75H5V72H0V4H3Z" fill="url(#o)"/><path class="c" d="M0,38Q22,14 59,11M0,68Q24,36 59,31M24,79Q30,52 59,51"/><text class="l" x="24" y="20">90</text><text class="l" x="27" y="42">60</text><text class="l" x="38" y="59">30</text><text class="l" x="5" y="4">120</text><circle cx="56" cy="71" r="3.2"/><rect x="54.8" y="64" width="2.6" height="6"/></g>
<g transform="translate(125,437)" clip-path="url(#pc)"><path d="M3,0H56V3H57V9H59V71H56V74H52V79H10V75H5V72H0V4H3Z" fill="url(#g52)"/><path d="M3,0H56V3H57V9H59V71H56V74H52V79H10V75H5V72H0V4H3Z" fill="url(#o)"/><path class="c" d="M0,38Q22,14 59,11M0,68Q24,36 59,31M24,79Q30,52 59,51"/><text class="l" x="24" y="20">90</text><text class="l" x="27" y="42">60</text><text class="l" x="38" y="59">30</text><text class="l" x="5" y="4">120</text><circle cx="56" cy="71" r="3.2"/><rect x="54.8" y="64" width="2.6" height="6"/></g>
<g transform="translate(185,437)" clip-path="url(#pc)"><path d="M3,0H56V3H57V9H59V71H56V74H52V79H10V75H5V72H0V4H3Z" fill="url(#g53)"/><path d="M3,0H56V3H57V9H59V71H56V74H52V79H10V75H5V72H0V4H3Z" fill="url(#o)"/><path class="c" d="M0,38Q22,14 59,11M0,68Q24,36 59,31M24,79Q30,52 59,51"/><text class="l" x="24" y="20">90</text><text class="l" x="27" y="42">60</text><text class="l" x="38" y="59">30</text><text class="l" x="5" y="4">120</text><circle cx="56" cy="71" r="3.2"/><rect x="54.8" y="64" width="2.6" height="6"/></g>
<g transform="translate(245,437)" clip-path="url(#pc)"><path d="M3,0H56V3H57V9H59V71H56V74H52V79H10V75H5V72H0V4H3Z" fill="url(#g54)"/><path d="M3,0H56V3H57V9H59V71H56V74H52V79H10V75H5V72H0V4H3Z" fill="url(#o)"/><path class="c" d="M0,38Q22,14 59,11M0,68Q24,36 59,31M24,79Q30,52 59,51"/><text class="l" x="24" y="20">90</text><text class="l" x="27" y="42">60</text><text class="l" x="38" y="59">30</text><text class="l" x="5" y="4">120</text><circle cx="56" cy="71" r="3.2"/><rect x="54.8" y="64" width="2.6" height="6"/></g>
<g transform="translate(305,437)" clip-path="url(#pc)"><path d="M3,0H56V3H57V9H59V71H56V74H52V79H10V75H5V72H0V4H3Z" fill="url(#g55)"/><path d="M3,0H56V3H57V9H59V71H56V74H52V79H10V75H5V72H0V4H3Z" fill="url(#o)"/><path class="c" d="M0,38Q22,14 59,11M0,68Q24,36 59,31M24,79Q30,52 59,51"/><text class="l" x="24" y="20">90</text><text class="l" x="27" y="42">60</text><text class="l" x="38" y="59">30</text><text class="l" x="5" y="4">120</text><circle cx="54" cy="70" r="3.2"/><rect x="52.8" y="63" width="2.6" height="6"/></g>
<g transform="translate(365,437)" clip-path="url(#pc)"><path d="M3,0H56V3H57V9H59V71H56V74H52V79H10V75H5V72H0V4H3Z" fill="url(#g56)"/><path d="M3,0H56V3H57V9H59V71H56V74H52V79H10V75H5V72H0V4H3Z" fill="url(#o)"/><path class="c" d="M0,38Q22,14 59,11M0,68Q24,36 59,31M24,79Q30,52 59,51"/><text class="l" x="24" y="20">90</text><text class="l" x="27" y="42">60</text><text class="l" x="38" y="59">30</text><text class="l" x="5" y="4">120</text><circle cx="54" cy="70" r="3.2"/><rect x="52.8" y="63" width="2.6" height="6"/></g>
<g transform="translate(425,437)" clip-path="url(#pc)"><path d="M3,0H56V3H57V9H59V71H56V74H52V79H10V75H5V72H0V4H3Z" fill="url(#g57)"/><path d="M3,0H56V3H57V9H59V71H56V74H52V79H10V75H5V72H0V4H3Z" fill="url(#o)"/><path class="c" d="M0,38Q22,14 59,11M0,68Q24,36 59,31M24,79Q30,52 59,51"/><text class="l" x="24" y="20">90</text><text class="l" x="27" y="42">60</text><text class="l" x="38" y="59">30</text><text class="l" x="5" y="4">120</text><circle cx="51" cy="68" r="3.4"/><rect x="49.8" y="61" width="2.6" height="6"/></g>
<g transform="translate(485,437)" clip-path="url(#pc)"><path d="M3,0H56V3H57V9H59V71H56V74H52V79H10V75H5V72H0V4H3Z" fill="url(#g58)"/><path d="M3,0H56V3H57V9H59V71H56V74H52V79H10V75H5V72H0V4H3Z" fill="url(#o)"/><path class="c" d="M0,38Q22,14 59,11M0,68Q24,36 59,31M24,79Q30,52 59,51"/><text class="l" x="24" y="20">90</text><text class="l" x="27" y="42">60</text><text class="l" x="38" y="59">30</text><text class="l" x="5" y="4">120</text><circle cx="51" cy="68" r="3.4"/><rect x="49.8" y="61" width="2.6" height="6"/></g>
<g transform="translate(545,437)" clip-path="url(#pc)"><path d="M3,0H56V3H57V9H59V71H56V74H52V79H10V75H5V72H0V4H3Z" fill="url(#g59)"/><path d="M3,0H56V3H57V9H59V71H56V74H52V79H10V75H5V72H0V4H3Z" fill="url(#o)"/><path class="c" d="M0,38Q22,14 59,11M0,68Q24,36 59,31M24,79Q30,52 59,51"/><text class="l" x="24" y="20">90</text><text class="l" x="27" y="42">60</text><text class="l" x="38" y="59">30</text><text class="l" x="5" y="4">120</text><circle cx="51" cy="68" r="3.4"/><rect x="49.8" y="61" width="2.6" height="6"/></g>

<!-- ROW 6 -->
<g transform="translate(5,517)" clip-path="url(#pc)"><path d="M3,0H56V3H57V9H59V71H56V74H52V79H10V75H5V72H0V4H3Z" fill="url(#g60)"/><path d="M3,0H56V3H57V9H59V71H56V74H52V79H10V75H5V72H0V4H3Z" fill="url(#o)"/><path class="c" d="M0,38Q22,14 59,11M0,68Q24,36 59,31M24,79Q30,52 59,51"/><text class="l" x="24" y="20">90</text><text class="l" x="27" y="42">60</text><text class="l" x="38" y="59">30</text><text class="l" x="5" y="4">120</text><circle cx="56" cy="71" r="3.2"/><rect x="54.8" y="64" width="2.6" height="6"/></g>
<g transform="translate(65,517)" clip-path="url(#pc)"><path d="M3,0H56V3H57V9H59V71H56V74H52V79H10V75H5V72H0V4H3Z" fill="url(#g61)"/><path d="M3,0H56V3H57V9H59V71H56V74H52V79H10V75H5V72H0V4H3Z" fill="url(#o)"/><path class="c" d="M0,38Q22,14 59,11M0,68Q24,36 59,31M24,79Q30,52 59,51"/><text class="l" x="24" y="20">90</text><text class="l" x="27" y="42">60</text><text class="l" x="38" y="59">30</text><text class="l" x="5" y="4">120</text><circle cx="56" cy="71" r="3.2"/><rect x="54.8" y="64" width="2.6" height="6"/></g>
<g transform="translate(125,517)" clip-path="url(#pc)"><path d="M3,0H56V3H57V9H59V71H56V74H52V79H10V75H5V72H0V4H3Z" fill="url(#g62)"/><path d="M3,0H56V3H57V9H59V71H56V74H52V79H10V75H5V72H0V4H3Z" fill="url(#o)"/><path class="c" d="M0,38Q22,14 59,11M0,68Q24,36 59,31M24,79Q30,52 59,51"/><text class="l" x="24" y="20">90</text><text class="l" x="27" y="42">60</text><text class="l" x="38" y="59">30</text><text class="l" x="5" y="4">120</text><circle cx="56" cy="71" r="3.2"/><rect x="54.8" y="64" width="2.6" height="6"/></g>
<g transform="translate(185,517)" clip-path="url(#pc)"><path d="M3,0H56V3H57V9H59V71H56V74H52V79H10V75H5V72H0V4H3Z" fill="url(#g63)"/><path d="M3,0H56V3H57V9H59V71H56V74H52V79H10V75H5V72H0V4H3Z" fill="url(#o)"/><path class="c" d="M0,38Q22,14 59,11M0,68Q24,36 59,31M24,79Q30,52 59,51"/><text class="l" x="24" y="20">90</text><text class="l" x="27" y="42">60</text><text class="l" x="38" y="59">30</text><text class="l" x="5" y="4">120</text><circle cx="56" cy="71" r="3.2"/><rect x="54.8" y="64" width="2.6" height="6"/></g>
<g transform="translate(245,517)" clip-path="url(#pc)"><path d="M3,0H56V3H57V9H59V71H56V74H52V79H10V75H5V72H0V4H3Z" fill="url(#g64)"/><path d="M3,0H56V3H57V9H59V71H56V74H52V79H10V75H5V72H0V4H3Z" fill="url(#o)"/><path class="c" d="M0,38Q22,14 59,11M0,68Q24,36 59,31M24,79Q30,52 59,51"/><text class="l" x="24" y="20">90</text><text class="l" x="27" y="42">60</text><text class="l" x="38" y="59">30</text><text class="l" x="5" y="4">120</text><circle cx="56" cy="71" r="3.2"/><rect x="54.8" y="64" width="2.6" height="6"/></g>
<g transform="translate(305,517)" clip-path="url(#pc)"><path d="M3,0H56V3H57V9H59V71H56V74H52V79H10V75H5V72H0V4H3Z" fill="url(#g65)"/><path d="M3,0H56V3H57V9H59V71H56V74H52V79H10V75H5V72H0V4H3Z" fill="url(#o)"/><path class="c" d="M0,38Q22,14 59,11M0,68Q24,36 59,31M24,79Q30,52 59,51"/><text class="l" x="24" y="20">90</text><text class="l" x="27" y="42">60</text><text class="l" x="38" y="59">30</text><text class="l" x="5" y="4">120</text><circle cx="54" cy="70" r="3.2"/><rect x="52.8" y="63" width="2.6" height="6"/></g>
<g transform="translate(365,517)" clip-path="url(#pc)"><path d="M3,0H56V3H57V9H59V71H56V74H52V79H10V75H5V72H0V4H3Z" fill="url(#g66)"/><path d="M3,0H56V3H57V9H59V71H56V74H52V79H10V75H5V72H0V4H3Z" fill="url(#o)"/><path class="c" d="M0,38Q22,14 59,11M0,68Q24,36 59,31M24,79Q30,52 59,51"/><text class="l" x="24" y="20">90</text><text class="l" x="27" y="42">60</text><text class="l" x="38" y="59">30</text><text class="l" x="5" y="4">120</text><circle cx="54" cy="70" r="3.2"/><rect x="52.8" y="63" width="2.6" height="6"/></g>
<g transform="translate(425,517)" clip-path="url(#pc)"><path d="M3,0H56V3H57V9H59V71H56V74H52V79H10V75H5V72H0V4H3Z" fill="url(#g67)"/><path d="M3,0H56V3H57V9H59V71H56V74H52V79H10V75H5V72H0V4H3Z" fill="url(#o)"/><path class="c" d="M0,38Q22,14 59,11M0,68Q24,36 59,31M24,79Q30,52 59,51"/><text class="l" x="24" y="20">90</text><text class="l" x="27" y="42">60</text><text class="l" x="38" y="59">30</text><text class="l" x="5" y="4">120</text><circle cx="51" cy="68" r="3.4"/><rect x="49.8" y="61" width="2.6" height="6"/></g>
<g transform="translate(485,517)" clip-path="url(#pc)"><path d="M3,0H56V3H57V9H59V71H56V74H52V79H10V75H5V72H0V4H3Z" fill="url(#g68)"/><path d="M3,0H56V3H57V9H59V71H56V74H52V79H10V75H5V72H0V4H3Z" fill="url(#o)"/><path class="c" d="M0,38Q22,14 59,11M0,68Q24,36 59,31M24,79Q30,52 59,51"/><text class="l" x="24" y="20">90</text><text class="l" x="27" y="42">60</text><text class="l" x="38" y="59">30</text><text class="l" x="5" y="4">120</text><circle cx="51" cy="68" r="3.4"/><rect x="49.8" y="61" width="2.6" height="6"/></g>
<g transform="translate(545,517)" clip-path="url(#pc)"><path d="M3,0H56V3H57V9H59V71H56V74H52V79H10V75H5V72H0V4H3Z" fill="url(#g69)"/><path d="M3,0H56V3H57V9H59V71H56V74H52V79H10V75H5V72H0V4H3Z" fill="url(#o)"/><path class="c" d="M0,38Q22,14 59,11M0,68Q24,36 59,31M24,79Q30,52 59,51"/><text class="l" x="24" y="20">90</text><text class="l" x="27" y="42">60</text><text class="l" x="38" y="59">30</text><text class="l" x="5" y="4">120</text><circle cx="51" cy="68" r="3.4"/><rect x="49.8" y="61" width="2.6" height="6"/></g>

<!-- grid lines -->
<path stroke="#fff" stroke-width="1" fill="none" d="M4.5,36.5V596.5M64.5,36.5V596.5M124.5,36.5V596.5M184.5,36.5V596.5M244.5,36.5V596.5M304.5,36.5V596.5M364.5,36.5V596.5M424.5,36.5V596.5M484.5,36.5V596.5M544.5,36.5V596.5M604.5,36.5V596.5M4.5,36.5H604.5M4.5,116.5H604.5M4.5,196.5H604.5M4.5,276.5H604.5M4.5,356.5H604.5M4.5,436.5H604.5M4.5,516.5H604.5M4.5,596.5H604.5"/>

<!-- colorbars -->
<rect x="604.5" y="36.5" width="8" height="80" fill="url(#cb)" stroke="#fff"/>
<rect x="604.5" y="116.5" width="8" height="80" fill="url(#cb)" stroke="#fff"/>
<rect x="604.5" y="196.5" width="8" height="80" fill="url(#cb)" stroke="#fff"/>
<rect x="604.5" y="276.5" width="8" height="80" fill="url(#cb)" stroke="#fff"/>
<rect x="604.5" y="356.5" width="8" height="80" fill="url(#cb)" stroke="#fff"/>
<rect x="604.5" y="436.5" width="8" height="80" fill="url(#cb)" stroke="#fff"/>
<rect x="604.5" y="516.5" width="8" height="80" fill="url(#cb)" stroke="#fff"/>

<!-- header -->
<g class="t" font-size="14">
<text x="152" y="15" textLength="151" lengthAdjust="spacingAndGlyphs">Cassini/MIMI Inca mTOF</text>
<text x="312" y="15" textLength="58" lengthAdjust="spacingAndGlyphs">2008-344</text>
<text x="382" y="15" textLength="32" lengthAdjust="spacingAndGlyphs">Stare</text>
<text x="425" y="15" textLength="58" lengthAdjust="spacingAndGlyphs">Ions Only</text>
<text x="100" y="32">R</text>
<text x="143" y="32" textLength="152" lengthAdjust="spacingAndGlyphs">5.99 Lat 23.18 LT 2151 L</text>
<text x="337" y="32" textLength="55" lengthAdjust="spacingAndGlyphs">7.09 Lon</text>
<text x="433" y="32" textLength="43" lengthAdjust="spacingAndGlyphs">334.29</text>
<text x="483" y="32" textLength="59" lengthAdjust="spacingAndGlyphs">MIMI/APL</text>
</g>
<g class="t" font-size="12.5">
<text x="108" y="41.5" textLength="29" lengthAdjust="spacingAndGlyphs">satur</text>
<text x="297" y="41.5" textLength="36" lengthAdjust="spacingAndGlyphs">saturn</text>
<text x="393" y="41.5" textLength="34" lengthAdjust="spacingAndGlyphs">skr-vl</text>
</g>
<g class="t" font-size="12">
<text x="713" y="15" textLength="47" lengthAdjust="spacingAndGlyphs">Log Cnts</text>
<text x="697" y="30">(cm<tspan font-size="8" dy="-4">2</tspan><tspan dy="4">-sr-s-keV)</tspan><tspan font-size="7" dy="-5">-1</tspan></text>
</g>

<!-- colorbar labels -->
<g class="t" font-size="11">
<text x="617" y="45">2.079</text><text x="617" y="82">0.6629</text><text x="617" y="116">-0.7593</text>
<text x="617" y="125">2.228</text><text x="617" y="162">0.7374</text><text x="617" y="196">-0.7593</text>
<text x="617" y="205">2.856</text><text x="617" y="242">1.051</text><text x="617" y="276">-0.7593</text>
<text x="617" y="285">3.206</text><text x="617" y="322">1.227</text><text x="617" y="356">-0.7593</text>
<text x="617" y="365">3.520</text><text x="617" y="402">1.383</text><text x="617" y="436">-0.7593</text>
<text x="617" y="445">4.322</text><text x="617" y="482">1.785</text><text x="617" y="516">-0.7593</text>
<text x="617" y="525">5.979</text><text x="617" y="562">2.613</text><text x="617" y="596">0.7593</text>
</g>

<!-- species labels -->
<g class="t" font-size="12">
<text x="660" y="77">Hydrogen</text><text x="660" y="91">149-227 keV</text>
<text x="660" y="157">Hydrogen</text><text x="660" y="171">90-149 keV</text>
<text x="660" y="237">Hydrogen</text><text x="660" y="251">55-90 keV</text>
<text x="660" y="317">Hydrogen</text><text x="660" y="331">35-55 keV</text>
<text x="660" y="397">Hydrogen</text><text x="660" y="411">24-35 keV</text>
<text x="660" y="477">Hydrogen</text><text x="660" y="491">13-24 keV</text>
<text x="660" y="557">Hydrogen</text><text x="660" y="571">5-13 keV</text>
</g>
<text class="t" x="701" y="582" font-size="10.5" textLength="92" lengthAdjust="spacingAndGlyphs">B-field Particle Flow</text>

<!-- time axis -->
<g class="t" font-size="11.5" text-anchor="middle">
<text x="36" y="609">344T14:37</text>
<text x="95" y="609">14:40</text>
<text x="155" y="609">14:43</text>
<text x="215" y="609">14:46</text>
<text x="275" y="609">14:49</text>
<text x="335" y="609">14:52</text>
<text x="395" y="609">14:55</text>
<text x="455" y="609">14:58</text>
<text x="515" y="609">15:01</text>
<text x="575" y="609">15:04</text>
</g>
</svg>
</body></html>
